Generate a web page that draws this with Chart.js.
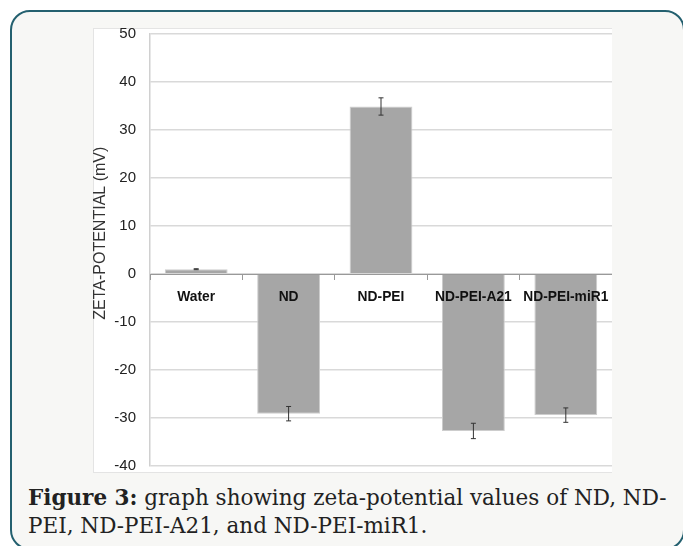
<!DOCTYPE html>
<html>
<head>
<meta charset="utf-8">
<script src="https://cdn.jsdelivr.net/npm/chart.js@4"></script>
<style>
  body { margin: 0; background: #fff; width: 683px; height: 546px; overflow: hidden; position: relative; }
  #frame {
    position: absolute; left: 10px; top: 10px; width: 671px; height: 536px;
    border: 2px solid #24606f; border-radius: 20px; background: #f7f7f5;
  }
  #panel { position: absolute; left: 93px; top: 28px; width: 518px; height: 443px; background: #fff; border: 1px solid #e4e4e4; border-right: none; }
  #chartBox { position: absolute; left: 93px; top: 18px; }
  #caption {
    position: absolute; left: 28px; top: 484px; width: 660px;
    font-family: "DejaVu Serif", serif; font-size: 21.5px; line-height: 28px; color: #222;
  }
</style>
</head>
<body>
<div id="frame"></div>
<div id="panel"></div>
<div id="chartBox"><canvas id="zetaChart" width="519" height="464"></canvas></div>
<div id="caption"><b>Figure 3:</b> graph showing zeta-potential values of ND, ND-<br>PEI, ND-PEI-A21, and ND-PEI-miR1.</div>
<script>
const categories = ["Water", "ND", "ND-PEI", "ND-PEI-A21", "ND-PEI-miR1"];
const zetaValues = [1.0, -29.1, 34.9, -32.7, -29.4];
const zetaErrors = [0.1, 1.5, 1.8, 1.6, 1.5];
const yTicks = [50, 40, 30, 20, 10, 0, -10, -20, -30, -40];

// error bars drawn from the same data through the y scale
const errorBars = {
  id: "errorBars",
  afterDatasetsDraw(chart) {
    const ctx = chart.ctx;
    const y = chart.scales.y;
    const meta = chart.getDatasetMeta(0);
    ctx.save();
    ctx.strokeStyle = "#333";
    ctx.lineWidth = 1;
    meta.data.forEach((bar, i) => {
      const v = zetaValues[i], e = zetaErrors[i];
      const top = y.getPixelForValue(v + e);
      const bot = y.getPixelForValue(v - e);
      ctx.beginPath();
      ctx.moveTo(bar.x, top); ctx.lineTo(bar.x, bot);
      ctx.moveTo(bar.x - 2.5, top); ctx.lineTo(bar.x + 2.5, top);
      ctx.moveTo(bar.x - 2.5, bot); ctx.lineTo(bar.x + 2.5, bot);
      ctx.stroke();
    });
    ctx.restore();
  }
};

// y title, centred a little above the middle like the original
const yTitle = {
  id: "yTitle",
  afterDraw(chart) {
    const ctx = chart.ctx;
    const y = chart.scales.y;
    ctx.save();
    ctx.translate(8, y.getPixelForValue(8.5));
    ctx.rotate(-Math.PI / 2);
    ctx.font = "16px 'Liberation Sans Narrow', 'Liberation Sans'";
    ctx.fillStyle = "#333";
    ctx.textAlign = "center";
    ctx.textBaseline = "middle";
    ctx.fillText("ZETA-POTENTIAL (mV)", 0, 0);
    ctx.restore();
  }
};

const ctx = document.getElementById("zetaChart").getContext("2d");
new Chart(ctx, {
  type: "bar",
  data: {
    labels: categories,
    datasets: [{
      data: zetaValues,
      backgroundColor: "#a6a6a6",
      borderColor: "#cdcdcd",
      borderWidth: 1,
      categoryPercentage: 1,
      barPercentage: 0.68
    }]
  },
  options: {
    responsive: false,
    animation: false,
    layout: { padding: { top: 16, bottom: 16, left: 0, right: 0 } },
    plugins: { legend: { display: false }, tooltip: { enabled: false } },
    scales: {
      x: {
        position: { y: 0 },
        afterFit(scale) { scale.paddingLeft = 0; scale.paddingRight = 0; },
        grid: { drawOnChartArea: false, tickLength: 5, color: "#999", z: 1 },
        border: { color: "#999", width: 1, z: 1 },
        ticks: { z: 1, font: { family: "Liberation Sans", size: 13.8, weight: "bold" }, color: "#111", padding: 10, maxRotation: 0, autoSkip: false }
      },
      y: {
        min: -40,
        max: 50,
        afterFit(scale) { scale.width = 57; },
        afterBuildTicks(scale) { scale.ticks = yTicks.map(v => ({ value: v })); },
        // invisible tick marks hold the labels away from the axis
        grid: { color: "#d9d9d9", lineWidth: 1.5, drawTicks: true, tickLength: 14, tickColor: "rgba(0,0,0,0)" },
        border: { color: "#d0d0d0", width: 1.5 },
        ticks: { font: { family: "Liberation Sans", size: 15 }, color: "#222", padding: 0 }
      }
    }
  },
  plugins: [errorBars, yTitle]
});
</script>
</body>
</html>
